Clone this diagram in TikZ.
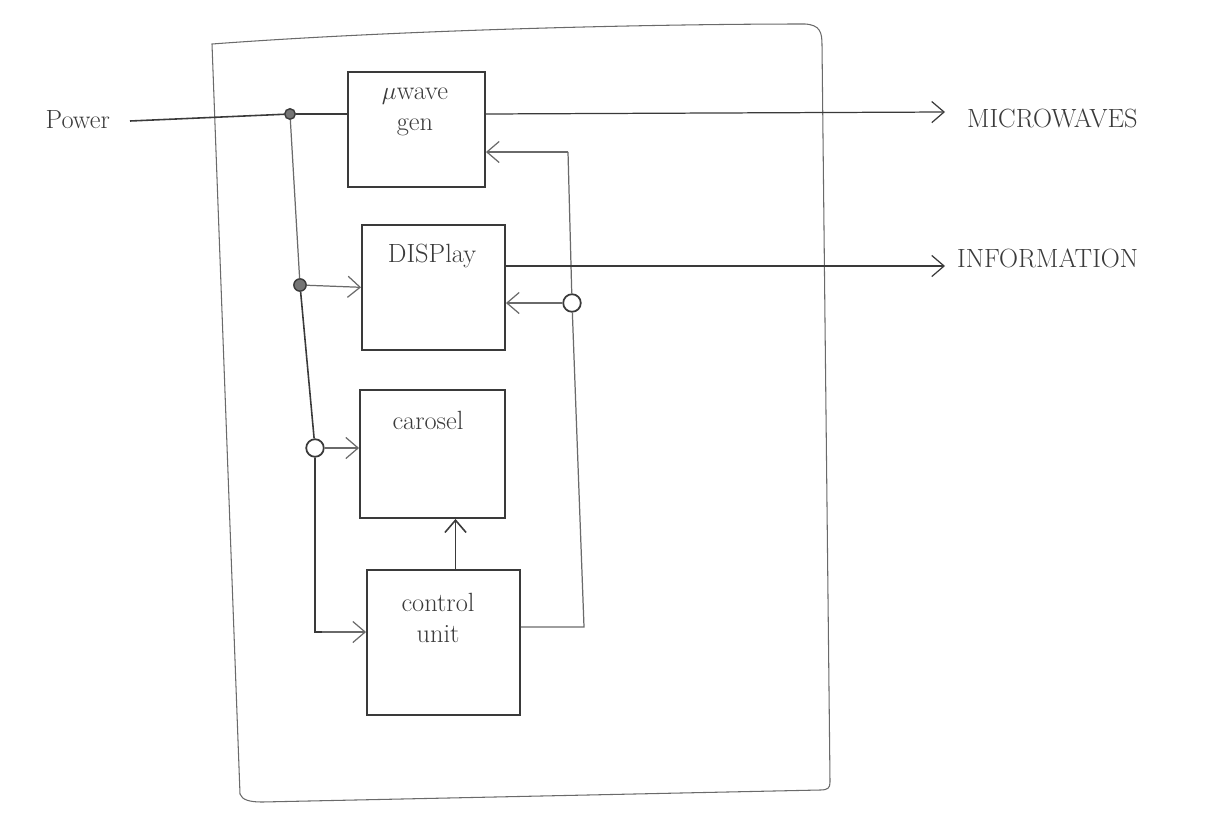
\documentclass[tikz,border=0pt]{standalone}
\usetikzlibrary{arrows.meta,calc}
\definecolor{pencil}{HTML}{3A3A3A}
\definecolor{lightpencil}{HTML}{6A6A6A}
\tikzset{
  blk/.style={draw=pencil, line width=1.1pt, rectangle, inner sep=0pt},
  hand/.style={text=pencil, font=\fontsize{15}{18}\selectfont, inner sep=1pt},
  wire/.style={draw=lightpencil, line width=0.7pt},
  sig/.style={wire, -{Straight Barb[length=7pt,width=12pt]}},
  dotf/.style={circle, draw=pencil, fill=pencil!70, line width=0.8pt, minimum size=7pt, inner sep=0pt},
  doto/.style={circle, draw=pencil, fill=white, line width=1pt, minimum size=10pt, inner sep=0pt},
  frame/.style={draw=lightpencil, line width=0.6pt}
}
\begin{document}
\begin{tikzpicture}[x=0.02cm,y=-0.02cm]
\useasboundingbox (0,0) rectangle (1209,815);
% outer housing
\draw[frame] (212,44) .. controls (400,30) and (650,24) .. (805,24)
  .. controls (820,25) and (822,32) .. (822,45) -- (830,782)
  .. controls (830,788) and (828,790) .. (820,790) -- (262,802)
  .. controls (250,802) and (242,800) .. (240,794) -- cycle;

% blocks
\node[blk, minimum width=2.74cm, minimum height=2.3cm] (gen) at (416.5,129.5) {};
\node[blk, minimum width=2.86cm, minimum height=2.5cm] (disp) at (433.5,287.5) {};
\node[blk, minimum width=2.9cm, minimum height=2.56cm] (car) at (432.5,454) {};
\node[blk, minimum width=3.06cm, minimum height=2.9cm] (ctrl) at (443.5,642.5) {};

% block texts
\node[hand, align=center] (gentxt) at (415,112) {$\mu$wave\\gen};
\node[hand] (disptxt) at (432,256) {DISPlay};
\node[hand] (cartxt) at (428,420) {carosel};
\node[hand, align=center] (ctrltxt) at (438,618) {control\\unit};

% outside texts
\node[hand, anchor=east] (power) at (112,120) {Power};
\node[hand, anchor=west] (mwtxt) at (965,118) {MICROWAVES};
\node[hand, anchor=west] (infotxt) at (955,258) {INFORMATION};

% junctions
\node[dotf, minimum size=6pt] (j1) at (290,114) {};
\node[dotf] (j2) at (300,285) {};
\node[doto] (j3) at (315,448) {};
\node[doto] (j4) at (572,303) {};

% free ends / corners
\coordinate (p0) at (130,121);
\coordinate (mw) at (945,112);
\coordinate (info) at (945,266);
\coordinate (cl) at (322,632);
\coordinate (cr) at (584,627);
\coordinate (gt) at (568,152);

% power feed
\draw[wire, line width=0.9pt, draw=pencil] (p0) -- (j1) -- (j1 -| gen.west);
% microwave output
\draw[sig, draw=pencil] (j1 -| gen.east) -- (mw);
% power bus
\draw[wire] (j1) -- (j2);
\draw[wire, draw=pencil, line width=0.9pt] (j2) -- (j3) -- (j3 |- cl) -- (cl);
\draw[sig] (cl) -- (cl -| ctrl.west);
\draw[sig] (j2) -- ($(disp.west)+(0,-0.2)$);
\draw[sig] (j3) -- (j3 -| car.west);
% control to carousel
\draw[sig, draw=pencil, line width=0.9pt] ([xshift=0.24cm]ctrl.north) -- ([xshift=0.24cm]ctrl.north |- car.south);
% control feedback
\draw[wire] (cr -| ctrl.east) -- (cr) -- (j4);
\draw[wire] (j4) -- (gt);
\draw[sig] (gt) -- (gt -| gen.east);
\draw[sig] (j4) -- (j4 -| disp.east);
% information output
\draw[sig, draw=pencil] (info -| disp.east) -- (info);
\end{tikzpicture}
\end{document}
